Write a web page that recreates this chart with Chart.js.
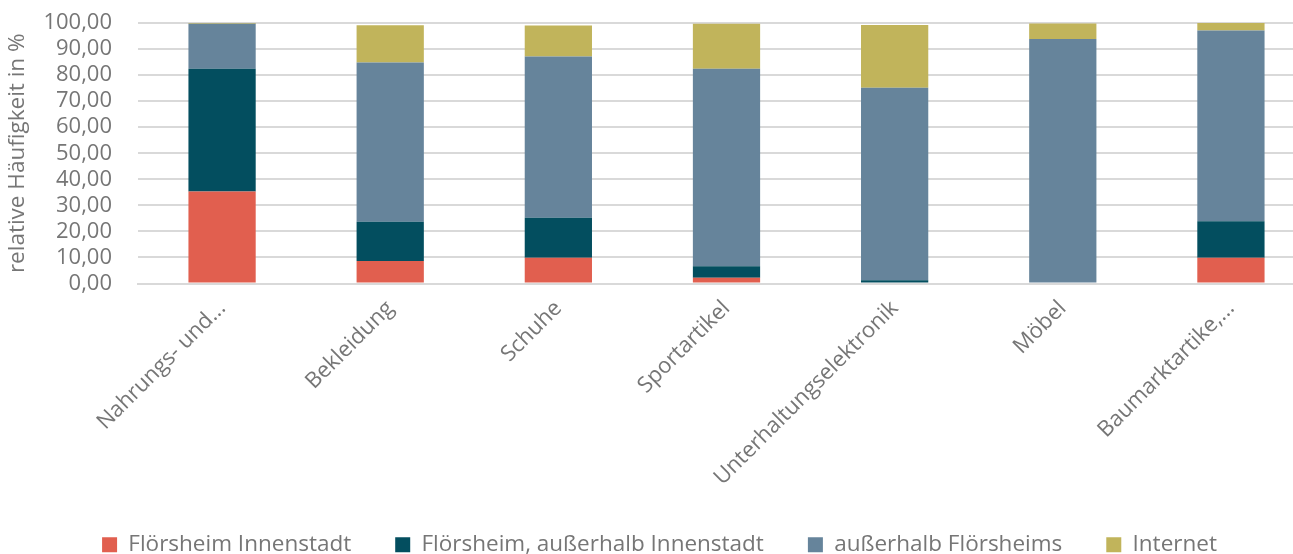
<!DOCTYPE html>
<html>
<head>
<meta charset="utf-8">
<script src="https://cdn.jsdelivr.net/npm/chart.js@4"></script>
<style>
  html, body { margin: 0; padding: 0; background: #fff; overflow: hidden; }
  #wrap { width: 1315px; height: 554px; }
</style>
</head>
<body>
<div id="wrap"><canvas id="chart"></canvas></div>
<script>
// Data
const categories = ['Nahrungs- und...', 'Bekleidung', 'Schuhe', 'Sportartikel', 'Unterhaltungselektronik', 'Möbel', 'Baumarktartike,...'];
const innenstadt = [35.3, 8.6, 9.9, 2.2, 0, 0, 9.9];
const ausserhalbInnenstadt = [47.1, 15.1, 15.3, 4.4, 1.2, 0, 14.0];
const ausserhalbFloersheim = [17.3, 61.1, 61.9, 75.8, 73.9, 93.9, 73.2];
const internet = [0.3, 14.3, 11.9, 17.3, 24.1, 5.9, 2.9];

const gray = '#767676';
const fontFamily = '"Open Sans", sans-serif';

new Chart(document.getElementById('chart'), {
  type: 'bar',
  data: {
    labels: categories,
    datasets: [
      { label: 'Flörsheim Innenstadt', data: innenstadt, backgroundColor: '#E15F4F' },
      { label: 'Flörsheim, außerhalb Innenstadt', data: ausserhalbInnenstadt, backgroundColor: '#034E5F' },
      { label: 'außerhalb Flörsheims', data: ausserhalbFloersheim, backgroundColor: '#66849B' },
      { label: 'Internet', data: internet, backgroundColor: '#C1B45B' },
    ],
  },
  options: {
    responsive: true,
    maintainAspectRatio: false,
    animation: false,
    layout: { padding: { top: 23, left: 4, bottom: -12 } },
    datasets: { bar: { barPercentage: 0.4, categoryPercentage: 1.0 } },
    plugins: {
      tooltip: { enabled: false },
      legend: {
        position: 'bottom',
        labels: {
          color: gray,
          font: { family: fontFamily, size: 22.5 },
          boxWidth: 15,
          boxHeight: 15,
          padding: 44,
        },
      },
    },
    scales: {
      x: {
        stacked: true,
        grid: { display: false },
        border: { color: '#d9d9d9', width: 2 },
        afterFit: (scale) => { scale.height = 206; },
        ticks: {
          color: gray,
          font: { family: fontFamily, size: 22 },
          minRotation: 45,
          maxRotation: 45,
          padding: 4,
        },
      },
      y: {
        stacked: true,
        min: 0,
        max: 100,
        afterFit: (scale) => {
          scale.width = 134;
          scale.paddingTop = 0;
          scale.paddingBottom = 0;
        },
        grid: { color: '#d9d9d9', lineWidth: 2, drawTicks: false },
        border: { display: false },
        ticks: {
          stepSize: 10,
          autoSkip: false,
          color: gray,
          padding: 26,
          font: { family: fontFamily, size: 22, lineHeight: 1 },
          callback: (v) => v.toFixed(2).replace('.', ','),
        },
        title: {
          display: true,
          text: 'relative Häufigkeit in %',
          color: gray,
          padding: 0,
          font: { family: fontFamily, size: 22.5 },
        },
      },
    },
  },
});
</script>
</body>
</html>
